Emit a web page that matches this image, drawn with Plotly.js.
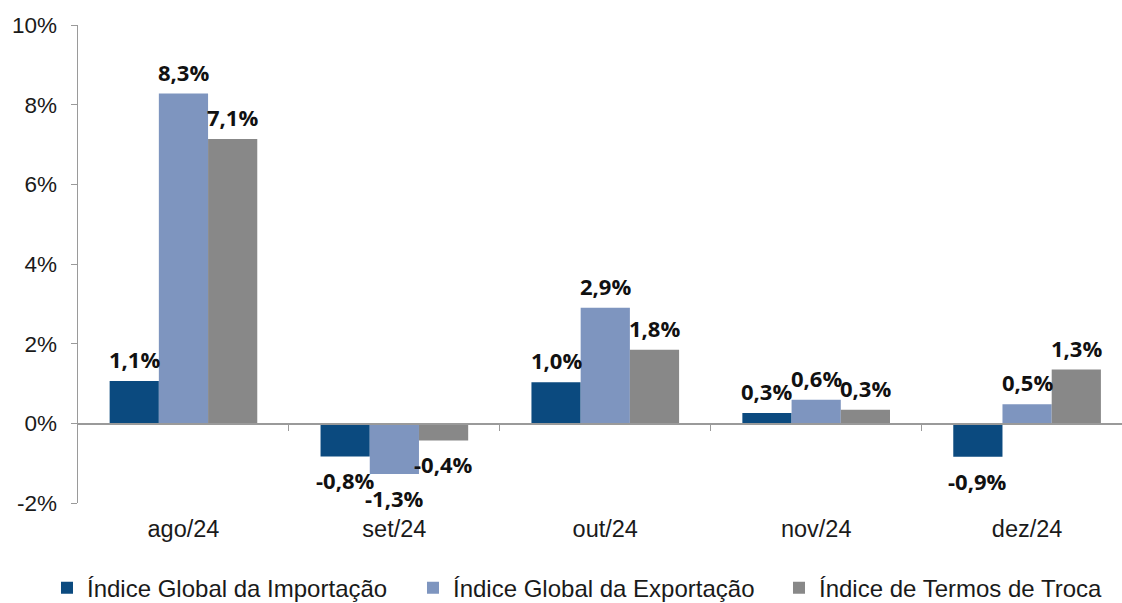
<!DOCTYPE html>
<html>
<head>
<meta charset="utf-8">
<script src="https://cdn.plot.ly/plotly-3.0.1.min.js"></script>
<style>html,body{margin:0;padding:0;background:#fff;}#chart{width:1122px;height:603px;}</style>
</head>
<body>
<div id="chart"></div>
<script>
const categories = ["ago/24", "set/24", "out/24", "nov/24", "dez/24"];
const seriesNames = ["Índice Global da Importação", "Índice Global da Exportação", "Índice de Termos de Troca"];
const importacao = [1.06, -0.83, 1.03, 0.26, -0.84];
const exportacao = [8.28, -1.27, 2.90, 0.59, 0.48];
const termosTroca = [7.14, -0.43, 1.85, 0.34, 1.35];
const importLabels = ["1,1%", "-0,8%", "1,0%", "0,3%", "-0,9%"];
const exportLabels = ["8,3%", "-1,3%", "2,9%", "0,6%", "0,5%"];
const termosLabels = ["7,1%", "-0,4%", "1,8%", "0,3%", "1,3%"];
const yTickVals = [-2, 0, 2, 4, 6, 8, 10];
const yTickText = ["-2%", "0%", "2%", "4%", "6%", "8%", "10%"];
const colors = ["#0B4A7F", "#7E95BF", "#888888"];

const BARGAP = 0.30;
const series = [
  {name: seriesNames[0], y: importacao, text: importLabels, color: colors[0]},
  {name: seriesNames[1], y: exportacao, text: exportLabels, color: colors[1]},
  {name: seriesNames[2], y: termosTroca, text: termosLabels, color: colors[2]}
];
const data = series.map(s => ({
  type: "bar", name: s.name, x: categories, y: s.y,
  marker: {color: s.color, line: {width: 0}}, hoverinfo: "skip"
}));
// Data labels as annotations anchored at each bar's end (from the data arrays)
const labelFont = {family: "Open Sans", size: 22, color: "#111", weight: "bold"};
const barW = (1 - BARGAP) / series.length;
const annotations = [];
series.forEach((s, j) => {
  const off = (j - (series.length - 1) / 2) * barW;
  s.y.forEach((v, i) => {
    annotations.push({
      x: i + off, y: v, xref: "x", yref: "y", text: s.text[i], showarrow: false,
      xanchor: "center", yanchor: v >= 0 ? "bottom" : "top", yshift: v >= 0 ? 5 : -7,
      font: labelFont
    });
  });
});
const axisGray = "#9a9a9a";
const layout = {
  width: 1122, height: 603,
  margin: {l: 78, r: 0, t: 25, b: 100, autoexpand: false},
  paper_bgcolor: "#fff", plot_bgcolor: "#fff",
  barmode: "group", bargap: BARGAP, bargroupgap: 0,
  font: {family: "Liberation Sans, Arial, sans-serif", size: 22, color: "#1a1a1a"},
  xaxis: {
    range: [-0.5, 4.45], showline: false, zeroline: false, showgrid: false,
    ticks: "outside", ticklen: 5, tickcolor: "rgba(0,0,0,0)",
    tickfont: {size: 23.5, color: "#1a1a1a"}
  },
  xaxis2: {
    overlaying: "x", anchor: "free", position: 2/12, range: [-0.5, 4.45],
    tickmode: "array", tickvals: [0.5, 1.5, 2.5, 3.5], ticks: "outside", ticklen: 6,
    tickcolor: axisGray, showline: true, linecolor: axisGray, linewidth: 1.5,
    showticklabels: false, showgrid: false, zeroline: false
  },
  yaxis: {
    range: [-2, 10], tickmode: "array", tickvals: yTickVals, ticktext: yTickText,
    showline: true, linecolor: axisGray, linewidth: 1.5, ticks: "outside", ticklen: 6,
    tickcolor: axisGray, zeroline: false, showgrid: false, ticklabelstandoff: 9,
    tickfont: {size: 22.5, color: "#1a1a1a"}
  },
  legend: {
    orientation: "h", xref: "paper", yref: "paper", x: -0.0297, xanchor: "left",
    y: -0.178, yanchor: "middle",
    font: {size: 24, color: "#1a1a1a"}, entrywidth: 321, entrywidthmode: "pixels",
    itemwidth: 30, traceorder: "normal"
  },
  annotations: annotations,
  showlegend: true
};
data.push({type: "scatter", x: [], y: [], xaxis: "x2", showlegend: false, hoverinfo: "skip"});
Plotly.newPlot("chart", data, layout, {displayModeBar: false, staticPlot: true});
</script>
</body>
</html>
